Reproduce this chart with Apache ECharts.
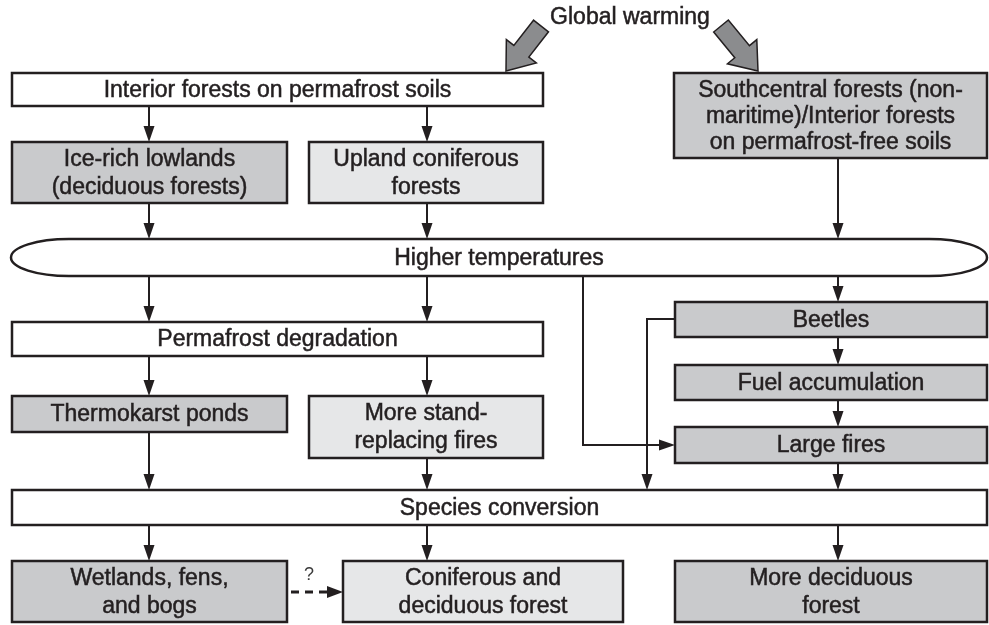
<!DOCTYPE html>
<html>
<head>
<meta charset="utf-8">
<script src="https://cdn.jsdelivr.net/npm/echarts@6/dist/echarts.min.js"></script>
<style>
  html, body { margin: 0; padding: 0; background: #fff; }
  #chart { width: 989px; height: 625px; }
</style>
</head>
<body>
<div id="chart"></div>
<script>
// boxes of the flow diagram, in diagram units (same frame as the picture)
const nodeLabels = [
  'Interior forests on permafrost soils',
  'Ice-rich lowlands\n(deciduous forests)',
  'Upland coniferous\nforests',
  'Southcentral forests (non-\nmaritime)/Interior forests\non permafrost-free soils',
  'Higher temperatures',
  'Permafrost degradation',
  'Beetles',
  'Fuel accumulation',
  'Thermokarst ponds',
  'More stand-\nreplacing fires',
  'Large fires',
  'Species conversion',
  'Wetlands, fens,\nand bogs',
  'Coniferous and\ndeciduous forest',
  'More deciduous\nforest'
];
const nodeX1 = [12, 12, 309, 674, 11, 12, 675, 675, 12, 309, 675, 12, 12, 343, 675];
const nodeY1 = [73, 142, 142, 73, 239, 322, 302, 365, 396, 396, 427, 490, 561, 561, 561];
const nodeX2 = [543, 287, 543, 987, 987, 543, 987, 987, 287, 543, 987, 987, 287, 623, 987];
const nodeY2 = [106, 203, 203, 158, 276, 356, 337, 400, 432, 458, 463, 525, 622, 622, 622];
const nodeKind = ['white', 'dark', 'light', 'dark', 'pill', 'white', 'dark', 'dark',
                  'dark', 'light', 'dark', 'white', 'dark', 'light', 'dark'];

// connectors (polylines, arrow at the last point)
const links = [
  [[149, 106], [149, 142]],
  [[427, 106], [427, 142]],
  [[149, 203], [149, 239]],
  [[427, 203], [427, 239]],
  [[838, 158], [838, 239]],
  [[149, 276], [149, 322]],
  [[427, 276], [427, 322]],
  [[838, 276], [838, 302]],
  [[583, 276], [583, 445], [675, 445]],
  [[675, 319], [647, 319], [647, 490]],
  [[838, 337], [838, 365]],
  [[838, 400], [838, 427]],
  [[149, 356], [149, 396]],
  [[427, 356], [427, 396]],
  [[149, 432], [149, 490]],
  [[427, 458], [427, 490]],
  [[838, 463], [838, 490]],
  [[149, 525], [149, 561]],
  [[427, 525], [427, 561]],
  [[838, 525], [838, 561]]
];
const dashedLinks = [[[291, 592], [343, 592]]];
const dashedLabels = ['?'];

// the two big "Global warming" arrows: [tail, tip]
const bigArrows = [
  [[541, 26], [506, 71]],
  [[721, 26], [758, 71]]
];
const titleText = 'Global warming';
const titlePos = [630, 18];

const INK = '#231f20';
const FONT = '"Liberation Sans Narrow", "Arial Narrow", "Liberation Sans", sans-serif';
const fills = { white: '#ffffff', dark: '#c9cacc', light: '#e6e7e8', pill: '#ffffff' };

const chart = echarts.init(document.getElementById('chart'));

function arrowHead(tip, from, len, half) {
  const dx = tip[0] - from[0], dy = tip[1] - from[1];
  const d = Math.sqrt(dx * dx + dy * dy) || 1;
  const ux = dx / d, uy = dy / d;
  const bx = tip[0] - ux * len, by = tip[1] - uy * len;
  return [tip, [bx - uy * half, by + ux * half], [bx + uy * half, by - ux * half]];
}

function pillPath(x1, y1, x2, y2) {
  const ry = (y2 - y1) / 2, rx = 58, k = 0.5523;
  const cy = y1 + ry;
  return 'M' + (x1 + rx) + ' ' + y1 +
    ' L' + (x2 - rx) + ' ' + y1 +
    ' C' + (x2 - rx + rx * k) + ' ' + y1 + ' ' + x2 + ' ' + (cy - ry * k) + ' ' + x2 + ' ' + cy +
    ' C' + x2 + ' ' + (cy + ry * k) + ' ' + (x2 - rx + rx * k) + ' ' + y2 + ' ' + (x2 - rx) + ' ' + y2 +
    ' L' + (x1 + rx) + ' ' + y2 +
    ' C' + (x1 + rx - rx * k) + ' ' + y2 + ' ' + x1 + ' ' + (cy + ry * k) + ' ' + x1 + ' ' + cy +
    ' C' + x1 + ' ' + (cy - ry * k) + ' ' + (x1 + rx - rx * k) + ' ' + y1 + ' ' + (x1 + rx) + ' ' + y1 + ' Z';
}

const nodeData = nodeLabels.map((name, i) => [nodeX1[i], nodeY1[i], nodeX2[i], nodeY2[i], i]);

const option = {
  animation: false,
  grid: { left: 0, right: 0, top: 0, bottom: 0 },
  xAxis: { type: 'value', min: 0, max: 989, show: false },
  yAxis: { type: 'value', min: 0, max: 625, inverse: true, show: false },
  series: [
    {
      // connectors
      type: 'custom',
      coordinateSystem: 'cartesian2d',
      data: links.map((l, i) => [l[0][0], l[0][1], i]),
      renderItem: function (params, api) {
        const pts = links[api.value(2)].map(p => api.coord(p));
        const n = pts.length;
        const head = arrowHead(pts[n - 1], pts[n - 2], 16, 5.5);
        const mid = [(head[1][0] + head[2][0]) / 2, (head[1][1] + head[2][1]) / 2];
        const shaft = pts.slice(0, n - 1).concat([mid]);
        return {
          type: 'group',
          children: [
            { type: 'polyline', shape: { points: shaft }, style: { stroke: INK, lineWidth: 2, fill: null } },
            { type: 'polygon', shape: { points: head }, style: { fill: INK } }
          ]
        };
      },
      z: 1
    },
    {
      // dashed connector with "?"
      type: 'custom',
      coordinateSystem: 'cartesian2d',
      data: dashedLinks.map((l, i) => [l[0][0], l[0][1], i]),
      renderItem: function (params, api) {
        const i = api.value(2);
        const pts = dashedLinks[i].map(p => api.coord(p));
        const n = pts.length;
        const head = arrowHead(pts[n - 1], pts[n - 2], 16, 6);
        const mid = [(head[1][0] + head[2][0]) / 2, (head[1][1] + head[2][1]) / 2];
        return {
          type: 'group',
          children: [
            { type: 'polyline', shape: { points: [pts[0], mid] },
              style: { stroke: INK, lineWidth: 3, lineDash: [8, 6], fill: null } },
            { type: 'polygon', shape: { points: head }, style: { fill: INK } },
            { type: 'text', x: (pts[0][0] + pts[n - 1][0]) / 2 - 8, y: pts[0][1] - 17,
              style: { text: dashedLabels[i], font: '18px ' + FONT, fill: '#3a3a3a',
                       align: 'center', verticalAlign: 'middle' } }
          ]
        };
      },
      z: 1
    },
    {
      // boxes
      type: 'custom',
      coordinateSystem: 'cartesian2d',
      data: nodeData,
      renderItem: function (params, api) {
        const i = api.value(4);
        const p1 = api.coord([api.value(0), api.value(1)]);
        const p2 = api.coord([api.value(2), api.value(3)]);
        const kind = nodeKind[i];
        const shape = kind === 'pill'
          ? { type: 'path', shape: { pathData: pillPath(p1[0], p1[1], p2[0], p2[1]) },
              style: { fill: fills[kind], stroke: INK, lineWidth: 2.5 } }
          : { type: 'rect', shape: { x: p1[0], y: p1[1], width: p2[0] - p1[0], height: p2[1] - p1[1] },
              style: { fill: fills[kind], stroke: INK, lineWidth: 2.5 } };
        const lines = nodeLabels[i].split('\n').length;
        return {
          type: 'group',
          children: [
            shape,
            { type: 'text', x: (p1[0] + p2[0]) / 2, y: (p1[1] + p2[1]) / 2 + 1,
              style: { text: nodeLabels[i], font: '23px ' + FONT, fill: INK,
                       stroke: INK, lineWidth: 0.5,
                       align: 'center', verticalAlign: 'middle',
                       lineHeight: lines > 2 ? 26 : 28 } }
          ]
        };
      },
      z: 2
    },
    {
      // big gray arrows from the title
      type: 'custom',
      coordinateSystem: 'cartesian2d',
      data: bigArrows.map((a, i) => [a[0][0], a[0][1], i]),
      renderItem: function (params, api) {
        const a = bigArrows[api.value(2)];
        const t = api.coord(a[0]), h = api.coord(a[1]);
        const dx = h[0] - t[0], dy = h[1] - t[1];
        const d = Math.sqrt(dx * dx + dy * dy);
        const ux = dx / d, uy = dy / d, nx = -uy, ny = ux;
        const sw = 9.5, hw = 19, hl = 25;
        const b = [h[0] - ux * hl, h[1] - uy * hl];
        const pts = [
          [t[0] + nx * sw, t[1] + ny * sw],
          [b[0] + nx * sw, b[1] + ny * sw],
          [b[0] + nx * hw, b[1] + ny * hw],
          h,
          [b[0] - nx * hw, b[1] - ny * hw],
          [b[0] - nx * sw, b[1] - ny * sw],
          [t[0] - nx * sw, t[1] - ny * sw]
        ];
        return { type: 'polygon', shape: { points: pts },
                 style: { fill: '#8b8c8e', stroke: INK, lineWidth: 1.5 } };
      },
      z: 3
    },
    {
      // title text
      type: 'custom',
      coordinateSystem: 'cartesian2d',
      data: [[titlePos[0], titlePos[1]]],
      renderItem: function (params, api) {
        const p = api.coord([api.value(0), api.value(1)]);
        return { type: 'text', x: p[0], y: p[1],
                 style: { text: titleText, font: '23px ' + FONT, fill: INK,
                          stroke: INK, lineWidth: 0.5,
                          align: 'center', verticalAlign: 'middle' } };
      },
      z: 3
    }
  ]
};

chart.setOption(option);
</script>
</body>
</html>
